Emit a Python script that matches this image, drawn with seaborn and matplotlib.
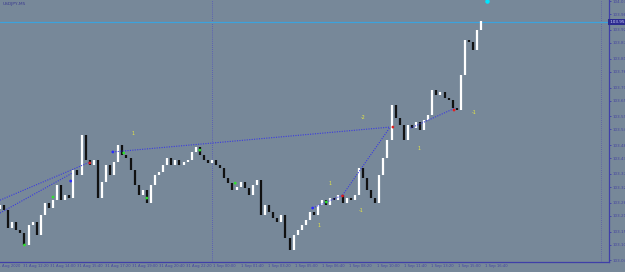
import matplotlib
matplotlib.use("Agg")
import matplotlib.pyplot as plt
import numpy as np
import pandas as pd
import seaborn as sns

# ---------------- data ----------------
symbol = "USDJPY,M5"
start_time = "2020-08-31 11:00"   # first (15-min) candle
day_start = "2020-09-01 00:00"    # period separator
close = [103.251, 103.232, 103.164, 103.186, 103.156, 103.144, 103.099, 103.175,
         103.186, 103.137, 103.213, 103.259, 103.240, 103.270, 103.328, 103.270,
         103.290, 103.278, 103.385, 103.366, 103.519, 103.423, 103.404, 103.423,
         103.278, 103.339, 103.404, 103.366, 103.416, 103.480, 103.442, 103.431,
         103.385, 103.328, 103.290, 103.309, 103.259, 103.328, 103.366, 103.377,
         103.404, 103.431, 103.404, 103.423, 103.404, 103.416, 103.423, 103.454,
         103.473, 103.442, 103.423, 103.412, 103.423, 103.404, 103.393, 103.354,
         103.335, 103.309, 103.320, 103.339, 103.316, 103.290, 103.328, 103.347,
         103.213, 103.251, 103.225, 103.202, 103.186, 103.213, 103.125, 103.080,
         103.137, 103.156, 103.175, 103.194, 103.225, 103.213, 103.251, 103.270,
         103.251, 103.278, 103.270, 103.290, 103.259, 103.278, 103.270, 103.290,
         103.393, 103.354, 103.309, 103.278, 103.259, 103.366, 103.431, 103.500,
         103.633, 103.584, 103.557, 103.500, 103.557, 103.545, 103.568, 103.538,
         103.576, 103.595, 103.690, 103.671, 103.683, 103.660, 103.652, 103.622,
         103.614, 103.748, 103.881, 103.874, 103.843, 103.920, 103.954]
first_open = 103.235
current_price = 103.95

# trend lines (x in M5 bars from day_start, y in price)
trend_x = [[-156, -90], [-156, -103], [-73, 131], [74, 96], [96, 131], [146, 179]]
trend_y = [[103.270, 103.415], [103.221, 103.373], [103.454, 103.549],
           [103.240, 103.289], [103.289, 103.549], [103.545, 103.622]]

# small yellow labels
mark_text = ["1", "-2", "1", "-1", "-1", "1", "1"]
mark_x = [-58, 111, 152, 110, 193, 87, 79]
mark_y = [103.526, 103.587, 103.469, 103.232, 103.603, 103.335, 103.175]

# signal dots
dot_x = [-90, -104, -73, -65, -48, -138, -117, -9, 17, 84, 96, 133, 178, 74]
dot_y = [103.412, 103.343, 103.454, 103.450, 103.278, 103.099, 103.282,
         103.461, 103.335, 103.263, 103.286, 103.549, 103.614, 103.240]
dot_kind = ["red", "blue", "blue", "green", "green", "green", "green",
            "green", "green", "green", "red", "red", "red", "blue"]

x_labels = ["31 Aug 2020", "31 Aug 12:20", "31 Aug 14:00", "31 Aug 15:40",
            "31 Aug 17:20", "31 Aug 19:00", "31 Aug 20:40", "31 Aug 22:20",
            "1 Sep 00:00", "1 Sep 01:40", "1 Sep 03:20", "1 Sep 05:00",
            "1 Sep 06:40", "1 Sep 08:20", "1 Sep 10:00", "1 Sep 11:40",
            "1 Sep 13:20", "1 Sep 15:00", "1 Sep 16:40"]
y_labels = ["104.03", "103.98", "103.92", "103.87", "103.81", "103.76", "103.70",
            "103.65", "103.59", "103.54", "103.48", "103.43", "103.37", "103.32",
            "103.26", "103.21", "103.15", "103.10", "103.04"]

# ---------------- style ----------------
BG = "#778899"
AXC = "#3f3fa8"
TXT = "#4545a0"
sns.set_style("white", {"axes.facecolor": BG, "figure.facecolor": BG})
plt.rcParams["font.family"] = ["DejaVu Sans"]

fig = plt.figure(figsize=(6.25, 2.72), dpi=100)
ax = fig.add_axes([0, 10 / 272, 609 / 625, 262 / 272])
ax.set_facecolor(BG)

# bar positions in M5 bars relative to day_start
times = pd.date_range(start_time, periods=len(close), freq="15min")
xb = ((times - pd.Timestamp(day_start)).total_seconds() / 300.0).to_numpy()
opens = [first_open] + close[:-1]
cols = ["white" if c >= o else "#111111" for o, c in zip(opens, close)]
lo = np.minimum(opens, close)
hi = np.maximum(opens, close)
hi = np.where(hi - lo < 0.004, lo + 0.004, hi)
ax.vlines(xb, lo, hi, colors=cols, linewidth=1.6, zorder=3)

# trend lines
for tx, ty in zip(trend_x, trend_y):
    sns.lineplot(x=tx, y=ty, ax=ax, color="#3a3ae0", linewidth=0.8,
                 linestyle=(0, (1, 1.2)), zorder=4)

# dots
pal = {"red": "#e02020", "blue": "#2a2aff", "green": "#30e030"}
sns.scatterplot(x=dot_x, y=dot_y, hue=dot_kind, palette=pal, ax=ax, s=4,
                linewidth=0, legend=False, zorder=5)
ax.scatter([202], [104.03], s=5, color="#00e5ff", zorder=6, clip_on=False)

for t, mx, my in zip(mark_text, mark_x, mark_y):
    ax.text(mx, my, t, color="#eaea40", fontsize=3.4, ha="center", va="center",
            zorder=6)

# current price line + separator lines
ax.axhline(current_price, color="#3da2dc", linewidth=0.9, zorder=2)
ax.axvline(0, color="#5050c0", linewidth=0.6, linestyle=(0, (1, 1.5)), zorder=1)
ax.axvline(286, color="#5a5aa8", linewidth=0.6, linestyle=(0, (1, 1.5)), zorder=1)

# axes
ax.set_xlim(-156, 292)
ax.set_ylim(103.034, 104.034)
for s in ["top", "left"]:
    ax.spines[s].set_visible(False)
for s in ["right", "bottom"]:
    ax.spines[s].set_color(AXC)
    ax.spines[s].set_linewidth(0.9)

ypos = [float(v) for v in y_labels]
ax.yaxis.tick_right()
ax.set_yticks(ypos)
ax.set_yticklabels(y_labels)
ax.tick_params(axis="y", length=1.5, width=0.6, color=AXC, labelsize=3.0,
               labelcolor=TXT, pad=0.8)

xpos = [-160 + 20 * i for i in range(len(x_labels))]
ax.set_xticks(xpos[1:])
ax.set_xticklabels([])
ax.tick_params(axis="x", length=2, width=0.6, color=AXC)
for xp, lab in zip(xpos, x_labels):
    ax.text(xp + 1.0, 103.034 - 0.017, lab, fontsize=2.7, color=TXT,
            ha="left", va="center", clip_on=False)
ax.set_xlabel("")
ax.set_ylabel("")

# current price tag
ax.text(1.0, current_price, " 103.95 ", transform=ax.get_yaxis_transform(),
        fontsize=3.0, color="#d8d8ff", ha="left", va="center",
        bbox=dict(boxstyle="square,pad=0.2", fc="#2b2b90", ec="none"),
        clip_on=False, zorder=7)

fig.text(3 / 625, 1 - 4 / 272, symbol, fontsize=3.2, color="#3a3a90",
         ha="left", va="center")

fig.savefig("out.png", dpi=100, facecolor=BG)
